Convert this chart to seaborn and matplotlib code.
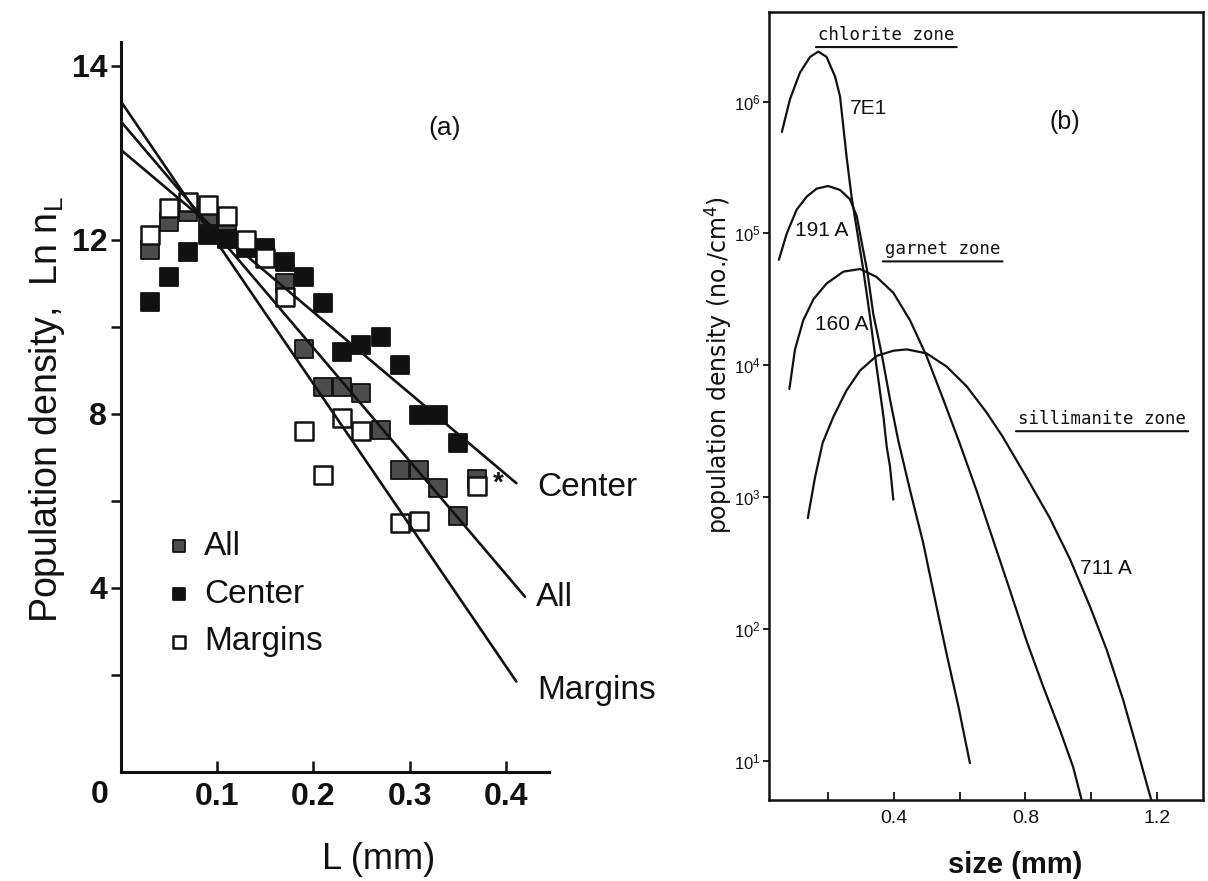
import numpy as np
import pandas as pd
import matplotlib
matplotlib.use("Agg")
import matplotlib.pyplot as plt
import matplotlib.ticker as mticker
import seaborn as sns

# ---------------- panel (a) data ----------------
L_all = [0.03, 0.05, 0.07, 0.09, 0.11, 0.13, 0.15, 0.17, 0.19, 0.21, 0.23, 0.25,
         0.27, 0.29, 0.31, 0.33, 0.35, 0.37]
ln_all = [11.77, 12.42, 12.65, 12.55, 12.30, 11.95, 11.70, 11.00, 9.49, 8.61, 8.61, 8.49,
          7.63, 6.71, 6.71, 6.29, 5.66, 6.50]

L_center = [0.03, 0.05, 0.07, 0.09, 0.11, 0.13, 0.15, 0.17, 0.19, 0.21, 0.23, 0.25,
            0.27, 0.29, 0.31, 0.33, 0.35]
ln_center = [10.58, 11.16, 11.73, 12.11, 12.02, 11.81, 11.81, 11.50, 11.16, 10.56, 9.43, 9.59,
             9.76, 9.13, 7.98, 7.98, 7.33]

L_margins = [0.03, 0.05, 0.07, 0.09, 0.11, 0.13, 0.15, 0.17, 0.19, 0.21, 0.23, 0.25,
             0.29, 0.31, 0.37]
ln_margins = [12.11, 12.73, 12.88, 12.80, 12.54, 12.00, 11.58, 10.70, 7.60, 6.60, 7.90, 7.60,
              5.50, 5.55, 6.35]

fit_L_center = [0.0, 0.411]
fit_ln_center = [14.07, 6.41]
fit_L_all = [0.0, 0.420]
fit_ln_all = [14.72, 3.80]
fit_L_margins = [0.0, 0.411]
fit_ln_margins = [15.18, 1.85]

a_xticks = [0.1, 0.2, 0.3, 0.4]
a_xticklabels = ["0.1", "0.2", "0.3", "0.4"]
a_yticks = [2, 4, 6, 8, 10, 12, 16]
a_yticklabels = ["", "4", "", "8", "", "12", "14"]
series_names = ["All", "Center", "Margins"]

# ---------------- panel (b) data (log10 of population density) ----------------
size_7E1 = [0.059, 0.084, 0.114, 0.145, 0.170, 0.195, 0.221, 0.236, 0.246, 0.256, 0.271,
            0.287, 0.307, 0.327, 0.347, 0.368, 0.378, 0.388, 0.398]
log_7E1 = [5.77, 6.02, 6.22, 6.34, 6.38, 6.34, 6.19, 6.04, 5.81, 5.58, 5.28,
           5.03, 4.72, 4.37, 3.99, 3.61, 3.38, 3.23, 2.98]

size_191A = [0.050, 0.074, 0.104, 0.135, 0.165, 0.200, 0.236, 0.266, 0.287, 0.302, 0.319,
             0.337, 0.363, 0.388, 0.413, 0.449, 0.489, 0.525, 0.560, 0.596, 0.631]
log_191A = [4.80, 5.00, 5.18, 5.28, 5.34, 5.36, 5.33, 5.26, 5.13, 4.93, 4.71,
            4.39, 4.08, 3.74, 3.43, 3.05, 2.65, 2.22, 1.81, 1.41, 0.98]

size_160A = [0.082, 0.099, 0.124, 0.155, 0.195, 0.246, 0.297, 0.347, 0.398, 0.449, 0.499,
             0.550, 0.601, 0.651, 0.702, 0.753, 0.803, 0.854, 0.905, 0.945, 0.975]
log_160A = [3.82, 4.12, 4.34, 4.50, 4.62, 4.71, 4.73, 4.67, 4.55, 4.34, 4.07,
            3.74, 3.40, 3.05, 2.67, 2.29, 1.91, 1.56, 1.23, 0.95, 0.66]

size_711A = [0.138, 0.160, 0.183, 0.216, 0.256, 0.297, 0.347, 0.398, 0.439, 0.499, 0.560,
             0.621, 0.682, 0.730, 0.803, 0.874, 0.935, 0.996, 1.047, 1.097, 1.138, 1.188]
log_711A = [2.84, 3.15, 3.41, 3.61, 3.81, 3.96, 4.07, 4.11, 4.12, 4.09, 3.99,
            3.84, 3.64, 3.46, 3.15, 2.84, 2.53, 2.17, 1.84, 1.46, 1.10, 0.65]

b_xticks = [0.2, 0.4, 0.6, 0.8, 1.0, 1.2]
b_xticklabels = ["", "0.4", "", "0.8", "", "1.2"]
b_yticks = [1e1, 1e2, 1e3, 1e4, 1e5, 1e6]

# ---------------- style ----------------
sns.set_style("ticks")
plt.rcParams["font.family"] = ["Liberation Sans", "DejaVu Sans"]
plt.rcParams["mathtext.fontset"] = "custom"
plt.rcParams["mathtext.rm"] = "Liberation Sans"
plt.rcParams["mathtext.it"] = "Liberation Sans:italic"
plt.rcParams["mathtext.bf"] = "Liberation Sans:bold"
plt.rcParams["lines.solid_joinstyle"] = "round"

fig = plt.figure(figsize=(12.08, 8.81), dpi=100)
fig.patch.set_facecolor("white")

# ================= panel (a) =================
axA = fig.add_axes([0.1002, 0.1237, 0.3543, 0.8286])
axA.set_facecolor("white")

sq = 150
sns.scatterplot(x=L_all, y=ln_all, marker="s", s=sq, color="#4d4d4d",
                edgecolor="#111111", linewidth=1.3, ax=axA, zorder=3, label=series_names[0])
sns.scatterplot(x=L_center, y=ln_center, marker="s", s=sq, color="#111111",
                edgecolor="#111111", linewidth=1.3, ax=axA, zorder=3, label=series_names[1])
sns.scatterplot(x=L_margins, y=ln_margins, marker="s", s=sq, color="white",
                edgecolor="#111111", linewidth=1.8, ax=axA, zorder=4, label=series_names[2])

for fx, fy in [(fit_L_center, fit_ln_center), (fit_L_all, fit_ln_all),
               (fit_L_margins, fit_ln_margins)]:
    sns.lineplot(x=fx, y=fy, color="#111111", linewidth=1.9, ax=axA, zorder=5,
                 sort=False, estimator=None, legend=False)

axA.set_xlim(0.0, 0.445)
axA.set_ylim(-0.23, 16.55)
axA.set_xticks(a_xticks)
axA.set_xticklabels(a_xticklabels, fontsize=23, fontweight="bold")
axA.set_yticks(a_yticks)
axA.set_yticklabels(a_yticklabels, fontsize=23, fontweight="bold")
axA.tick_params(axis="x", direction="in", length=8, width=1.8, pad=7, colors="#111111")
axA.tick_params(axis="y", direction="out", length=7, width=1.8, pad=3, colors="#111111")
for s in ["top", "right"]:
    axA.spines[s].set_visible(False)
for s in ["left", "bottom"]:
    axA.spines[s].set_linewidth(2.2)
    axA.spines[s].set_color("#111111")

axA.set_xlabel("L (mm)", fontsize=26, color="#111111", va="center")
axA.xaxis.set_label_coords(0.603, -0.12)
axA.set_ylabel(r"Population density,  Ln n$_{\mathregular{L}}$", fontsize=27,
               color="#111111", va="center")
axA.yaxis.set_label_coords(-0.172, 0.497)

axA.text(-0.049, -0.0315, "0", transform=axA.transAxes, fontsize=23, fontweight="bold",
         ha="center", va="center", color="#111111", clip_on=False)
axA.text(0.757, 0.882, "(a)", transform=axA.transAxes, fontsize=19,
         ha="center", va="center", color="#111111")
axA.text(0.972, 0.3904, "Center", transform=axA.transAxes, fontsize=24,
         ha="left", va="center", color="#111111", clip_on=False)
axA.text(0.9696, 0.2397, "All", transform=axA.transAxes, fontsize=24,
         ha="left", va="center", color="#111111", clip_on=False)
axA.text(0.972, 0.1123, "Margins", transform=axA.transAxes, fontsize=24,
         ha="left", va="center", color="#111111", clip_on=False)
axA.text(0.881, 0.395, "*", transform=axA.transAxes, fontsize=20, fontweight="bold",
         ha="center", va="center", color="#111111")

leg = axA.legend(loc="upper left", bbox_to_anchor=(0.112, 0.330), frameon=False,
                 fontsize=24, handlelength=0.6, handletextpad=0.45, labelspacing=0.5,
                 borderpad=0, borderaxespad=0, markerscale=0.75)
for t in leg.get_texts():
    t.set_color("#111111")

# ================= panel (b) =================
axB = fig.add_axes([0.6366, 0.0919, 0.3593, 0.8944])
axB.set_facecolor("white")
for sx, ly in [(size_7E1, log_7E1), (size_191A, log_191A),
               (size_160A, log_160A), (size_711A, log_711A)]:
    sns.lineplot(x=sx, y=10 ** np.array(ly), color="#111111", linewidth=1.6, ax=axB,
                 sort=False, estimator=None, legend=False)

axB.set_yscale("log")
axB.set_xlim(0.02, 1.34)
axB.set_ylim(10 ** 0.7, 10 ** 6.68)
axB.set_yticks(b_yticks)
axB.yaxis.set_major_formatter(mticker.LogFormatterSciNotation())
axB.yaxis.set_minor_locator(mticker.NullLocator())
axB.set_xticks(b_xticks)
axB.set_xticklabels(b_xticklabels)
axB.tick_params(axis="y", direction="out", length=4, width=1.3, pad=2, labelsize=12,
                colors="#111111")
axB.tick_params(axis="x", direction="in", length=6, width=1.3, pad=7, labelsize=14,
                colors="#111111")
for s in axB.spines.values():
    s.set_linewidth(1.8)
    s.set_color("#111111")
    s.set_visible(True)

axB.set_xlabel("size (mm)", fontsize=21, fontweight="bold", color="#111111", va="center")
axB.xaxis.set_label_coords(0.567, -0.082)
axB.set_ylabel("population density (no./cm$^{\\mathregular{4}}$)", fontsize=17,
               color="#111111", family=["DejaVu Sans"], va="center")
axB.yaxis.set_label_coords(-0.118, 0.552)

axB.text(0.682, 0.860, "(b)", transform=axB.transAxes, fontsize=18,
         ha="center", va="center", color="#111111")
axB.text(0.187, 0.878, "7E1", transform=axB.transAxes, fontsize=15,
         ha="left", va="center", color="#111111")
axB.text(0.060, 0.723, "191 A", transform=axB.transAxes, fontsize=15,
         ha="left", va="center", color="#111111")
axB.text(0.106, 0.604, "160 A", transform=axB.transAxes, fontsize=15,
         ha="left", va="center", color="#111111")
axB.text(0.717, 0.294, "711 A", transform=axB.transAxes, fontsize=15,
         ha="left", va="center", color="#111111")

zone_texts = []
for txt, xx, yy in [("chlorite zone", 0.113, 0.971), ("garnet zone", 0.267, 0.699),
                    ("sillimanite zone", 0.574, 0.4835)]:
    zone_texts.append(axB.text(xx, yy, txt, transform=axB.transAxes, fontsize=12.5,
                               family=["DejaVu Sans Mono"], ha="left", va="center",
                               color="#111111"))

fig.canvas.draw()
renderer = fig.canvas.get_renderer()
inv = axB.transAxes.inverted()
for t in zone_texts:
    bb = t.get_window_extent(renderer)
    (x0, y0), (x1, y1) = inv.transform([[bb.x0, bb.y0], [bb.x1, bb.y1]])
    axB.annotate("", xy=(x1 + 0.005, y0 - 0.004), xytext=(x0 - 0.005, y0 - 0.004),
                 xycoords="axes fraction", textcoords="axes fraction",
                 arrowprops=dict(arrowstyle="-", color="#111111", lw=1.5,
                                 shrinkA=0, shrinkB=0))

fig.savefig("out.png", dpi=100, facecolor="white")
